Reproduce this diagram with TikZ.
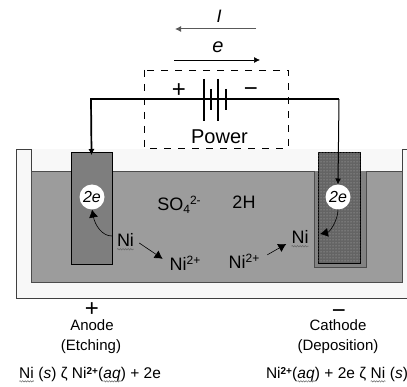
\documentclass[tikz,border=0pt]{standalone}
\usepackage{fontspec}
\setmainfont{Liberation Sans}
\usetikzlibrary{arrows.meta, patterns, calc, decorations.pathmorphing}
\definecolor{bath}{RGB}{156,156,156}
\definecolor{wall}{RGB}{248,248,248}
\definecolor{anodegray}{RGB}{126,126,126}
\definecolor{cathodegray}{RGB}{100,100,100}
\newcommand{\wavy}[1]{\tikz[baseline=(w.base)]{\node[inner sep=0pt, outer sep=0pt] (w) {#1};
    \draw[draw=black!60, line width=0.5pt, decorate, decoration={snake, amplitude=0.7pt, segment length=2.6pt}] ([yshift=-2.4pt]w.base west) -- ([yshift=-2.4pt]w.base east);}}

\begin{document}
\begin{tikzpicture}[
    x=1pt, y=-1pt,
    every node/.style={inner sep=0pt, outer sep=0pt, text=black},
    biglabel/.style={font=\fontsize{18}{20}\selectfont},
    midlabel/.style={font=\fontsize{15}{17}\selectfont},
    smalllabel/.style={font=\fontsize{15.5}{17}\selectfont},
    signlabel/.style={font=\fontsize{24}{26}\selectfont},
    blob/.style={circle, fill=white, minimum size=25pt, font=\fontsize{16}{18}\selectfont\itshape},
    wire/.style={draw, line width=1.7pt},
    plate/.style={draw, line width=1.5pt},
    react/.style={draw, -{Latex[length=8pt, width=9pt]}, line width=0.6pt},
    flow/.style={draw, -{Latex[length=6pt, width=6pt]}}
]
    \useasboundingbox (0,0) rectangle (407,387);
    % tank and bath
    \fill[wall] (16,149) rectangle (407,298);
    \draw[draw=black!75, line width=0.8pt] (407,298) -- (16,298) -- (16,149) -- (31,149) -- (31,171);
    \draw[draw=black!75, line width=0.8pt] (407,149) -- (402,149) -- (402,171);
    \draw[fill=bath, draw=black!70, line width=0.6pt] (31,171) rectangle (402,282);
    % sleeve and electrodes
    \draw[fill=anodegray!85!bath, draw=black!70, line width=0.8pt] (314,171) -- (314,267) -- (366,267) -- (366,171);
    \node[draw, line width=0.8pt, fill=anodegray, minimum width=41pt, minimum height=112pt] (anode) at (91.5,208) {};
    \node[draw, line width=0.8pt, fill=cathodegray, minimum width=42pt, minimum height=111pt] (cathode) at (339,207.5) {};
    \fill[pattern=dots, pattern color=gray!55] (cathode.north west) rectangle (cathode.south east);

    % power box and wire
    \draw[dash pattern=on 7pt off 7pt, line width=0.7pt] (144,70) rectangle (288,148);
    \node[blob] (leftblob) at (92,197) {2e};
    \node[blob] (rightblob) at (338,197) {2e};
    \coordinate (leftcorner) at (91,99);
    \coordinate (rightcorner) at (339,99);
    \coordinate (batleft) at (204,99);
    \coordinate (batright) at (226,99);
    \draw[wire] (anode.north) -- (leftcorner) -- (batleft);
    \draw[wire] (batright) -- (rightcorner);
    \draw[flow, line width=1pt] (rightcorner) -- (rightblob.north);
    \draw[flow, line width=0.8pt] (leftcorner) -- ($(anode.north)+(0,3)$);
    % battery plates
    \draw[plate] (204,79) -- (204,121);
    \draw[plate] (211,89) -- (211,110);
    \draw[plate] (218,79) -- (218,121);
    \draw[plate] (226,89) -- (226,110);
    \draw[line width=1.7pt] (batleft) -- (batright);
    \node[signlabel] (plus) at (179,91) {+};
    \node[signlabel] (minus) at (251,92) {−};
    \node[font=\fontsize{20}{22}\selectfont] (power) at (219.5,137) {Power};

    % current and electron arrows
    \node[font=\fontsize{18}{20}\selectfont\itshape] (curlabel) at (219,16) {I};
    \node[font=\fontsize{20}{22}\selectfont\itshape] (elabel) at (218,47) {e};
    \coordinate (curstart) at (256,29);
    \coordinate (curend) at (175,29);
    \coordinate (estart) at (174,60);
    \coordinate (eend) at (260,60);
    \draw[flow, draw=black!65, line width=1pt] (curstart) -- (curend);
    \draw[flow, line width=0.7pt] (estart) -- (eend);

    % species in the bath
    \node[biglabel] (so) at (179,205) {SO\raisebox{-3pt}{\fontsize{12}{12}\selectfont 4}\raisebox{6pt}{\fontsize{12}{12}\selectfont 2-}};
    \node[biglabel] (twoh) at (244,202) {2H};
    \node[biglabel] (nileft) at (125.5,242) {\wavy{Ni}};
    \node[biglabel] (nileftion) at (185,263) {Ni\raisebox{6pt}{\fontsize{12}{12}\selectfont 2+}};
    \node[biglabel] (niright) at (300,239) {\wavy{Ni}};
    \node[biglabel] (nirightion) at (244,261) {Ni\raisebox{6pt}{\fontsize{12}{12}\selectfont 2+}};
    \draw[react] ($(nileft.west)+(-5,-6)$) .. controls (102,236) and (95,225) .. (leftblob.south);
    \draw[react] ($(nileft.east)+(5,1)$) -- ($(nileftion.north west)+(-7,3)$);
    \draw[react] (rightblob.south) .. controls (338,220) and (330,232) .. (320,234);
    \draw[react] ($(nirightion.north east)+(8,1)$) -- ($(niright.west)+(-5,5)$);

    % labels under the tank
    \node[signlabel] (anodesign) at (92,310) {+};
    \node[signlabel] (cathodesign) at (339,314) {−};
    \node[midlabel] (anodename) at (92,325) {Anode};
    \node[midlabel] (anodejob) at (91,347) {(Etching)};
    \node[midlabel] (cathodename) at (338,325) {Cathode};
    \node[midlabel] (cathodejob) at (338,347) {(Deposition)};
    \node[smalllabel, anchor=west] (anodereact) at (19,375) {\wavy{Ni} (\textit{s}) ζ Ni\raisebox{4pt}{\fontsize{10}{10}\selectfont\bfseries 2+}(\wavy{\textit{aq}}) + 2e};
    \node[smalllabel, anchor=west] (cathodereact) at (266,375) {Ni\raisebox{4pt}{\fontsize{10}{10}\selectfont\bfseries 2+}(\wavy{\textit{aq}}) + 2e ζ \wavy{Ni} (\textit{s})};
\end{tikzpicture}
\end{document}
